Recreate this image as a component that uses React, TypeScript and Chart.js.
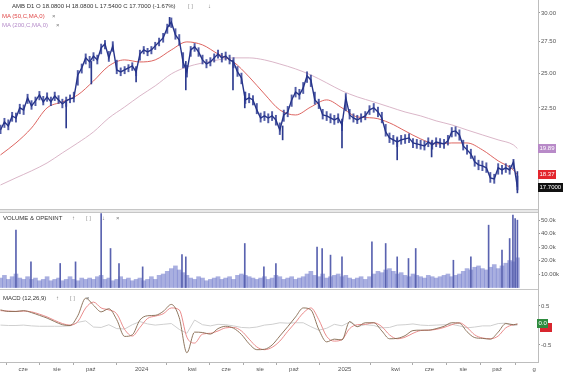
import React, { useEffect, useRef } from "react";
import { Chart, registerables } from "chart.js";
Chart.register(...registerables);

// ---------- DATA ----------
const FIRST_WEEK = "2023-04-21"; // first weekly sample, one sample every 7 days

const closeWeekly = [
  21.04, 21.56, 21.30, 21.96, 21.82, 22.50, 22.36, 23.19, 22.63, 22.98,
  23.40, 22.91, 23.26, 22.91, 23.33, 23.05, 22.77, 22.98, 23.12, 23.19,
  24.86, 25.39, 26.18, 25.86, 26.33, 26.02, 26.99, 27.31, 26.18, 27.15,
  25.24, 25.09, 25.24, 25.39, 25.55, 25.09, 26.49, 26.82, 26.66, 26.82,
  27.15, 27.48, 27.81, 28.67, 29.19, 28.07, 27.64, 25.86, 25.09, 26.82,
  27.07, 26.66, 26.02, 25.70, 25.86, 26.18, 26.49, 26.18, 26.33, 26.02,
  25.86, 25.09, 24.64, 23.05, 23.19, 23.05, 22.36, 21.82, 21.96, 21.82,
  21.96, 21.69, 21.04, 22.02, 22.22, 23.05, 23.61, 23.40, 23.90, 24.79,
  24.49, 23.05, 22.77, 22.02, 21.96, 21.82, 21.69, 21.82, 21.37, 23.19,
  22.02, 21.82, 21.69, 21.82, 21.96, 22.36, 22.50, 22.22, 21.82, 20.92,
  20.54, 20.42, 20.29, 20.42, 20.48, 20.54, 20.23, 20.17, 20.11, 20.05,
  20.29, 20.11, 20.29, 20.23, 20.17, 20.36, 20.92, 20.98, 20.73, 20.05,
  19.81, 19.57, 19.10, 18.93, 18.87, 18.76, 18.20, 18.14, 18.76, 18.64,
  18.76, 18.64, 19.10, 17.70,
];
const highWeekly = [
  21.35, 21.80, 21.70, 22.20, 22.15, 22.75, 22.70, 23.45, 23.00, 23.25,
  23.65, 23.30, 23.55, 23.25, 23.60, 23.35, 23.10, 23.25, 23.40, 23.60,
  25.20, 25.70, 26.50, 26.30, 26.60, 26.40, 27.30, 27.60, 26.70, 27.50,
  26.00, 25.40, 25.50, 25.65, 25.80, 25.50, 26.80, 27.10, 26.95, 27.10,
  27.45, 27.80, 28.20, 29.00, 29.55, 28.60, 28.10, 26.60, 25.60, 27.10,
  27.35, 27.00, 26.40, 26.05, 26.20, 26.50, 26.80, 26.55, 26.65, 26.40,
  26.20, 25.50, 25.00, 23.60, 23.50, 23.35, 22.80, 22.15, 22.25, 22.10,
  22.25, 22.00, 21.50, 22.35, 22.60, 23.40, 23.95, 23.80, 24.30, 25.10,
  24.85, 23.60, 23.10, 22.40, 22.25, 22.10, 22.00, 22.10, 21.75, 23.50,
  22.40, 22.10, 22.00, 22.10, 22.25, 22.65, 22.80, 22.55, 22.20, 21.40,
  20.85, 20.70, 20.60, 20.70, 20.75, 20.80, 20.50, 20.45, 20.40, 20.35,
  20.55, 20.40, 20.55, 20.50, 20.45, 20.70, 21.20, 21.25, 21.05, 20.40,
  20.10, 19.85, 19.45, 19.20, 19.15, 19.05, 18.50, 18.40, 19.00, 18.90,
  19.00, 18.90, 19.25, 18.30,
];
const lowWeekly = [
  20.80, 21.20, 21.05, 21.60, 21.55, 22.10, 22.05, 22.80, 22.40, 22.65,
  23.05, 22.70, 22.95, 22.65, 23.00, 22.80, 22.50, 22.60, 22.85, 22.90,
  24.10, 25.00, 25.70, 25.40, 25.95, 25.70, 26.50, 26.90, 25.90, 26.70,
  24.95, 24.80, 24.95, 25.10, 25.20, 24.80, 26.00, 26.50, 26.35, 26.50,
  26.85, 27.15, 27.45, 28.20, 28.70, 27.70, 27.20, 25.40, 24.70, 26.30,
  26.70, 26.30, 25.70, 25.40, 25.55, 25.85, 26.15, 25.85, 26.00, 25.70,
  25.40, 24.75, 24.20, 22.80, 22.85, 22.70, 22.10, 21.55, 21.65, 21.50,
  21.65, 21.35, 20.75, 21.60, 21.90, 22.60, 23.25, 23.10, 23.50, 24.30,
  24.00, 22.75, 22.45, 21.75, 21.65, 21.50, 21.40, 21.50, 21.00, 22.30,
  21.75, 21.55, 21.45, 21.55, 21.70, 22.05, 22.20, 21.90, 21.50, 20.65,
  20.25, 20.15, 20.00, 20.15, 20.20, 20.25, 19.95, 19.90, 19.85, 19.80,
  20.00, 19.85, 20.00, 19.95, 19.90, 20.10, 20.60, 20.65, 20.40, 19.80,
  19.55, 19.30, 18.85, 18.65, 18.60, 18.50, 17.95, 17.90, 18.40, 18.40,
  18.50, 18.40, 18.70, 17.55,
];

const wickDates = [
  "2023-08-18", "2023-10-02", "2023-12-22", "2024-02-20", "2024-03-20", "2024-06-13",
  "2024-07-04", "2024-09-11", "2024-12-27", "2025-04-04", "2025-06-05", "2025-11-07",
];
const wickLow = [21.17, 24.19, 24.34, 28.8, 23.76, 23.76, 22.5, 20.42, 19.93, 19.22, 19.39, 17.39];
const wickHigh = [22.9, 25.9, 25.4, 29.6, 25.9, 26.0, 23.6, 21.3, 21.6, 20.5, 20.3, 18.55];

const maSampleWeeks = [
  0, 4, 8, 12, 16, 20, 24, 28, 32, 36, 40, 44, 48, 52, 56, 60, 64, 68,
  72, 76, 80, 84, 88, 92, 96, 100, 104, 108, 112, 116, 120, 124, 128, 132, 133,
];
const ma50Values = [
  19.51, 20.23, 21.17, 22.50, 22.91, 23.40, 24.41, 25.55, 26.02, 25.86, 26.02, 26.82,
  27.48, 27.23, 26.49, 25.86, 24.71, 23.47, 22.36, 22.02, 22.56, 23.05, 22.50, 21.89,
  21.82, 21.50, 20.98, 20.48, 20.17, 20.23, 20.23, 19.81, 19.16, 18.64, 18.37,
];
const ma200Values = [
  17.81, 18.20, 18.59, 19.04, 19.63, 20.23, 20.92, 21.82, 22.56, 23.33, 24.05, 24.94,
  25.47, 25.78, 26.02, 26.18, 26.18, 26.02, 25.70, 25.32, 24.86, 24.27, 23.69, 23.26,
  22.91, 22.56, 22.22, 21.96, 21.63, 21.37, 21.04, 20.73, 20.42, 20.11, 19.89,
];

const volumeWeeklyK = [
  7, 9, 6, 8, 10, 7, 6, 8,
  6, 7, 5, 6, 8, 5, 6, 7, 5, 6, 8, 6, 5, 7, 6,
  7, 6, 8, 9, 6, 7, 5, 6, 8, 6, 7,
  5, 6, 7, 5, 6, 8, 6, 9,
  10, 12, 14, 16, 13, 11, 9,
  7, 6, 8, 7, 5, 6, 7, 8, 6, 7, 8, 6, 9,
  10, 9, 8, 7, 6,
  7, 8, 6, 7, 9, 8, 6, 7, 8, 6, 7,
  8, 10, 12, 9, 8, 10, 7, 8, 9, 10, 8,
  9, 7, 6, 7, 8, 6,
  8, 10, 12, 11, 13, 14, 12, 10, 11, 9, 8, 10, 9,
  8, 7, 9, 8, 7, 8, 9, 10, 8, 9,
  10, 12, 14, 13, 15, 16, 14, 13,
  15, 17, 14, 16, 18, 20, 19, 22,
];
const volumeSpikeDates = [
  "2023-05-19", "2023-06-15", "2023-08-07", "2023-09-04", "2023-10-20", "2023-11-06",
  "2023-11-21", "2024-01-03", "2024-03-13", "2024-03-20", "2024-07-04", "2024-08-08",
  "2024-08-30", "2024-11-12", "2024-11-21", "2024-12-06", "2024-12-27", "2025-02-18",
  "2025-03-14", "2025-04-04", "2025-04-24", "2025-05-07", "2025-07-14", "2025-08-15",
  "2025-09-16", "2025-10-10", "2025-10-24", "2025-10-30", "2025-11-03", "2025-11-07",
];
const volumeSpikeK = [
  42.5, 19, 17.8, 19, 54.8, 28.9, 17.8, 15.3, 24.4, 22.7, 32.6, 15.3,
  17.8, 30, 28.9, 24, 22.7, 33.8, 32.6, 22.7, 21.5, 28.9, 20.2, 22.7,
  46.2, 27.7, 36.3, 53.6, 51.1, 49.9,
];

// MACD sampled every second week plus the last week
const macdValues = [
  0.40, 0.36, 0.36, 0.38, 0.33, 0.26, 0.19, 0.10, 0.02, 0.00,
  0.25, 0.70, 0.52, 0.35, 0.43, 0.15, -0.28, -0.24, 0.14, 0.25,
  0.26, 0.36, 0.54, 0.20, -0.70, -0.17, -0.18, -0.22, -0.08, -0.02,
  -0.07, -0.23, -0.47, -0.62, -0.61, -0.50, -0.27, -0.03, 0.22, 0.45,
  0.40, -0.10, -0.42, -0.35, -0.37, 0.10, -0.03, 0.07, 0.07, -0.14,
  -0.34, -0.33, -0.26, -0.13, -0.12, -0.12, -0.08, -0.02, 0.07, 0.06,
  -0.16, -0.31, -0.33, -0.35, -0.17, 0.05, 0.02,
  0.04,
];
const signalValues = [
  0.38, 0.37, 0.36, 0.37, 0.35, 0.29, 0.22, 0.13, 0.05, 0.01,
  0.10, 0.45, 0.60, 0.45, 0.40, 0.30, -0.10, -0.27, -0.05, 0.18,
  0.24, 0.30, 0.45, 0.40, -0.30, -0.45, -0.22, -0.20, -0.14, -0.06,
  -0.05, -0.14, -0.35, -0.55, -0.62, -0.56, -0.40, -0.15, 0.08, 0.32,
  0.45, 0.15, -0.28, -0.40, -0.36, -0.08, 0.02, 0.03, 0.07, -0.03,
  -0.24, -0.34, -0.30, -0.20, -0.13, -0.12, -0.10, -0.05, 0.02, 0.07,
  -0.05, -0.24, -0.32, -0.34, -0.27, -0.06, 0.02,
  0.03,
];
const histValues = [
  0.01, 0.00, 0.00, 0.01, -0.01, -0.02, -0.02, -0.02, -0.02, -0.01,
  0.08, 0.12, -0.04, -0.05, 0.02, -0.08, -0.09, 0.02, 0.10, 0.04,
  0.01, 0.03, 0.05, -0.10, -0.20, 0.14, 0.02, -0.01, 0.03, 0.02,
  -0.01, -0.05, -0.06, -0.04, 0.01, 0.03, 0.07, 0.06, 0.07, 0.07,
  -0.03, -0.12, -0.07, 0.03, -0.01, 0.09, -0.03, 0.02, 0.00, -0.06,
  -0.05, 0.01, 0.02, 0.04, 0.01, 0.00, 0.01, 0.02, 0.03, -0.01,
  -0.06, -0.04, -0.01, -0.01, 0.05, 0.06, 0.00,
  0.01,
];

const xTickDates = [
  "2023-06-01", "2023-08-01", "2023-10-01", "2024-01-01", "2024-04-01", "2024-06-01",
  "2024-08-01", "2024-10-01", "2025-01-01", "2025-04-01", "2025-06-01", "2025-08-01",
  "2025-10-01", "2025-12-07",
];
const xTickLabels = ["cze", "sie", "paź", "2024", "kwi", "cze", "sie", "paź", "2025", "kwi", "cze", "sie", "paź", "g"];

const priceTicks = [22.5, 25, 27.5, 30];
const volTicksK = [10, 20, 30, 40, 50];
const volTickLabels = ["10.00k", "20.0k", "30.0k", "40.0k", "50.0k"];
const macdTicks = [-0.5, 0.5];

const lastClose = 17.7;
const lastMa50 = 18.37;
const lastMa200 = 19.89;
const lastMacd = 0.04;
const lastMacdRed = -0.06;

// ---------- helpers ----------
const FONT = '"Liberation Sans", Arial, sans-serif';

function parseDate(s: string) {
  const [y, m, d] = s.split("-").map(Number);
  return new Date(Date.UTC(y, m - 1, d));
}
function monthPos(d: Date) {
  const y = d.getUTCFullYear();
  const mo = d.getUTCMonth();
  const day = d.getUTCDate();
  const dim = new Date(Date.UTC(y, mo + 1, 0)).getUTCDate();
  return (y - 2023) * 12 + mo + (day - 1) / dim;
}
const firstWeek = parseDate(FIRST_WEEK);
function weekPos(i: number) {
  return monthPos(new Date(firstWeek.getTime() + i * 7 * 86400000));
}
const X_MIN = 3.638;
const X_MAX = 35.417;

const macdSampleWeeks = Array.from({ length: 67 }, (_, k) => k * 2).concat([133]);

function drawBox(ctx: CanvasRenderingContext2D, x: number, cy: number, w: number, bg: string, text: string, fg: string) {
  ctx.fillStyle = bg;
  ctx.fillRect(x, Math.round(cy - 4.5), w, 9);
  ctx.fillStyle = fg;
  ctx.font = `6px ${FONT}`;
  ctx.textBaseline = "middle";
  ctx.textAlign = "left";
  ctx.fillText(text, x + 1.5, Math.round(cy - 4.5) + 4.8);
}

const overlayPlugin = {
  id: "overlayPlugin",
  afterDraw(chart: any) {
    const ctx: CanvasRenderingContext2D = chart.ctx;
    const { left, right } = chart.chartArea;
    const yP = chart.scales.yPrice;
    const yV = chart.scales.yVol;
    const yM = chart.scales.yMacd;
    ctx.save();
    ctx.fillStyle = "#e8e8e8";
    ctx.fillRect(left, yP.bottom - 2, right - left, 4);
    ctx.strokeStyle = "#c6c6c6";
    ctx.lineWidth = 1;
    ctx.beginPath();
    ctx.moveTo(left, yP.bottom - 1.5);
    ctx.lineTo(right, yP.bottom - 1.5);
    ctx.moveTo(left, yP.bottom + 1.5);
    ctx.lineTo(right, yP.bottom + 1.5);
    ctx.moveTo(left, yV.bottom - 0.5);
    ctx.lineTo(right, yV.bottom - 0.5);
    ctx.stroke();
    drawBox(ctx, right, yP.getPixelForValue(lastMa200), 18, "#b88ac8", lastMa200.toFixed(2), "#ffffff");
    drawBox(ctx, right, yP.getPixelForValue(lastMa50), 18, "#e3262e", lastMa50.toFixed(2), "#ffffff");
    drawBox(ctx, right, yP.getPixelForValue(lastClose), 25, "#111111", lastClose.toFixed(4), "#ffffff");
    drawBox(ctx, right + 2, yM.getPixelForValue(lastMacdRed), 12, "#d8262e", "", "#ffffff");
    drawBox(ctx, right - 1, yM.getPixelForValue(lastMacd), 11, "#2e8b3e", "0.0", "#ffffff");
    ctx.restore();
  },
};

const labelStyle = (left: number, cy: number, color: string) => ({
  position: "absolute" as const,
  left,
  top: cy - 4,
  lineHeight: "8px",
  fontSize: 6,
  fontFamily: FONT,
  color,
  whiteSpace: "nowrap" as const,
});

export default function App() {
  const ref = useRef<HTMLCanvasElement | null>(null);

  useEffect(() => {
    if (!ref.current) return;
    const priceData = closeWeekly.map((v, i) => ({ x: weekPos(i), y: v }));
    const rangeData = highWeekly.map((v, i) => ({ x: weekPos(i), y: [lowWeekly[i], v] }));
    const wickData = wickDates.map((d, k) => ({ x: monthPos(parseDate(d)), y: [wickLow[k], wickHigh[k]] }));
    const ma50Data = ma50Values.map((v, k) => ({ x: weekPos(maSampleWeeks[k]), y: v }));
    const ma200Data = ma200Values.map((v, k) => ({ x: weekPos(maSampleWeeks[k]), y: v }));
    const volData = volumeWeeklyK.map((v, i) => ({ x: weekPos(i), y: v }));
    const spikeData = volumeSpikeDates.map((d, k) => ({ x: monthPos(parseDate(d)), y: volumeSpikeK[k] }));
    const macdData = macdValues.map((v, k) => ({ x: weekPos(macdSampleWeeks[k]), y: v }));
    const sigData = signalValues.map((v, k) => ({ x: weekPos(macdSampleWeeks[k]), y: v }));
    const histData = histValues.map((v, k) => ({ x: weekPos(macdSampleWeeks[k]), y: v }));
    const xTickPos = xTickDates.map((d) => monthPos(parseDate(d)));

    const tickFont = { size: 6, family: FONT };
    const yCommon = (w: number) => ({
      position: "right" as const,
      stack: "panels",
      stackWeight: w,
      afterFit: (s: any) => {
        s.width = 26;
        s.paddingTop = 0;
        s.paddingBottom = 0;
      },
      grid: { drawOnChartArea: false, drawTicks: true, tickLength: 2, color: "#999" },
      border: { color: "#bdbdbd" },
    });

    const chart = new Chart(ref.current, {
      type: "line",
      data: {
        datasets: [
          { type: "line", data: priceData, yAxisID: "yPrice", borderColor: "#26348a", borderWidth: 1.4, pointRadius: 0, fill: false } as any,
          { type: "bar", data: rangeData, yAxisID: "yPrice", backgroundColor: "rgba(50,64,150,0.85)", barThickness: 1.3, grouped: false } as any,
          { type: "bar", data: wickData, yAxisID: "yPrice", backgroundColor: "#2c3a8e", barThickness: 1, grouped: false } as any,
          { type: "line", data: ma50Data, yAxisID: "yPrice", borderColor: "#d9534f", borderWidth: 0.9, pointRadius: 0, cubicInterpolationMode: "monotone", fill: false } as any,
          { type: "line", data: ma200Data, yAxisID: "yPrice", borderColor: "#d6aec2", borderWidth: 0.9, pointRadius: 0, cubicInterpolationMode: "monotone", fill: false } as any,
          { type: "bar", data: spikeData, yAxisID: "yVol", backgroundColor: "#5a63b0", barThickness: 1, grouped: false } as any,
          { type: "bar", data: volData, yAxisID: "yVol", backgroundColor: "rgba(112,122,204,0.6)", barThickness: 4, grouped: false } as any,
          { type: "line", data: macdData, yAxisID: "yMacd", borderColor: "#85694f", borderWidth: 0.9, pointRadius: 0, cubicInterpolationMode: "monotone", fill: false } as any,
          { type: "line", data: sigData, yAxisID: "yMacd", borderColor: "#e88080", borderWidth: 0.9, pointRadius: 0, cubicInterpolationMode: "monotone", fill: false } as any,
          { type: "line", data: histData, yAxisID: "yMacd", borderColor: "#cfcfcf", borderWidth: 1, pointRadius: 0, fill: false } as any,
        ],
      },
      options: {
        animation: false,
        responsive: false,
        maintainAspectRatio: false,
        layout: { padding: 0 },
        plugins: { legend: { display: false }, tooltip: { enabled: false } },
        elements: { point: { radius: 0 }, line: { tension: 0 } },
        scales: {
          x: {
            type: "linear",
            min: X_MIN,
            max: X_MAX,
            offset: false,
            position: "bottom",
            afterBuildTicks: (s: any) => {
              s.ticks = xTickPos.map((v) => ({ value: v }));
            },
            afterFit: (s: any) => {
              s.height = 17;
            },
            ticks: {
              autoSkip: false,
              maxRotation: 0,
              minRotation: 0,
              padding: 1,
              font: tickFont,
              color: "#555",
              callback: (_v: any, i: number) => xTickLabels[i],
            },
            grid: { drawOnChartArea: false, drawTicks: true, tickLength: 3, color: "#aaa" },
            border: { color: "#bdbdbd" },
          },
          yPrice: {
            ...yCommon(211),
            type: "logarithmic",
            min: 16.46,
            max: 31.2,
            afterBuildTicks: (s: any) => {
              s.ticks = priceTicks.map((v) => ({ value: v }));
            },
            ticks: { padding: 1, font: tickFont, color: "#555", callback: (v: any) => Number(v).toFixed(2) },
          },
          yVol: {
            ...yCommon(79),
            type: "linear",
            min: -1.85,
            max: 56.7,
            afterBuildTicks: (s: any) => {
              s.ticks = volTicksK.map((v) => ({ value: v }));
            },
            ticks: {
              padding: 1,
              font: tickFont,
              color: "#555",
              callback: (v: any) => volTickLabels[volTicksK.indexOf(Number(v))],
            },
          },
          yMacd: {
            ...yCommon(72),
            type: "linear",
            min: -0.936,
            max: 0.91,
            afterBuildTicks: (s: any) => {
              s.ticks = macdTicks.map((v) => ({ value: v }));
            },
            ticks: { padding: 1, font: tickFont, color: "#555", callback: (v: any) => String(v) },
          },
        },
      } as any,
      plugins: [overlayPlugin],
    });
    return () => chart.destroy();
  }, []);

  return (
    <div style={{ position: "fixed", left: 0, top: 0, width: 564, height: 379, background: "#fff", overflow: "hidden" }}>
      <canvas ref={ref} width={564} height={379} style={{ position: "absolute", left: 0, top: 0, width: 564, height: 379 }} />
      <div style={labelStyle(12, 6, "#333")}>AMB D1 O 18.0800 H 18.0800 L 17.5400 C 17.7000 (-1.67%)</div>
      <div style={labelStyle(188, 6, "#999")}>[ ]</div>
      <div style={labelStyle(208, 6, "#777")}>↓</div>
      <div style={labelStyle(2, 16, "#e04848")}>MA (50,C,MA,0)</div>
      <div style={labelStyle(52, 16, "#777")}>×</div>
      <div style={labelStyle(2, 25, "#b48ac8")}>MA (200,C,MA,0)</div>
      <div style={labelStyle(56, 25, "#777")}>×</div>
      <div style={labelStyle(3, 218, "#333")}>VOLUME &amp; OPENINT</div>
      <div style={labelStyle(72, 218, "#777")}>↑</div>
      <div style={labelStyle(86, 218, "#999")}>[ ]</div>
      <div style={labelStyle(102, 218, "#777")}>↓</div>
      <div style={labelStyle(116, 218, "#777")}>×</div>
      <div style={labelStyle(3, 298, "#333")}>MACD (12,26,9)</div>
      <div style={labelStyle(56, 298, "#777")}>↑</div>
      <div style={labelStyle(70, 298, "#999")}>[ ]</div>
      <div style={labelStyle(86, 298, "#777")}>×</div>
    </div>
  );
}
